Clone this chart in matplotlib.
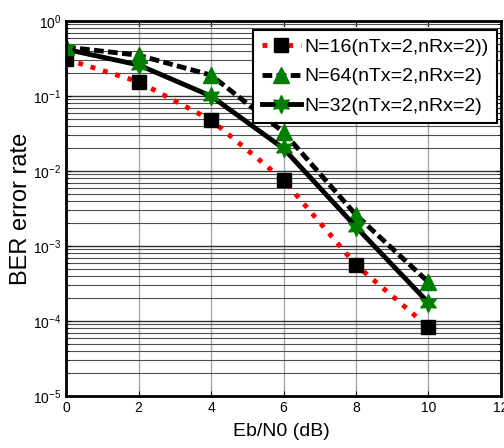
import numpy as np
import matplotlib
matplotlib.use('Agg')
import matplotlib.pyplot as plt

plt.rcParams['font.family'] = ['Liberation Sans', 'DejaVu Sans']

# Eb/N0 points and simulated BER for each configuration
ebno = [0, 2, 4, 6, 8, 10]
ber_n16 = [0.31, 0.155, 0.048, 0.0076, 5.6e-4, 8.3e-5]
ber_n64 = [0.45, 0.35, 0.19, 0.033, 2.6e-3, 3.3e-4]
ber_n32 = [0.42, 0.26, 0.10, 0.020, 1.8e-3, 1.75e-4]

labels = ['N=16(nTx=2,nRx=2))', 'N=64(nTx=2,nRx=2)', 'N=32(nTx=2,nRx=2)']

fig = plt.figure(figsize=(5.04, 4.48), dpi=100)
ax = fig.add_axes([0.131, 0.116, 0.863, 0.837])

green = '#007f00'
hexagram = (6, 1, 0)

ax.semilogy(ebno, ber_n16, ':', color='red', lw=3.5, marker='s', ms=9.5,
            mfc='black', mec='black', label=labels[0])
ax.semilogy(ebno, ber_n64, '--', color='black', lw=3.5, marker='^', ms=11,
            mfc=green, mec=green, label=labels[1], dashes=(2.0, 0.9))
ax.semilogy(ebno, ber_n32, '-', color='black', lw=3.5, marker=hexagram, ms=13,
            mfc=green, mec=green, label=labels[2])

ax.set_xlim(0, 12)
ax.set_ylim(1e-5, 1)
ax.set_xticks([0, 2, 4, 6, 8, 10, 12])

ax.grid(True, which='major', axis='x', color='#a8a8a8', lw=1)
ax.grid(True, which='major', axis='y', color='#303030', lw=1)
ax.grid(True, which='minor', axis='y', color='#505050', lw=0.8)

ax.tick_params(which='both', direction='in', labelsize=10, top=True, right=True)
for s in ax.spines.values():
    s.set_linewidth(2)

ax.set_xlabel('Eb/N0 (dB)', fontsize=14)
ax.set_ylabel('BER error rate', fontsize=17)
ax.xaxis.set_label_coords(0.494, -0.072)
ax.yaxis.set_label_coords(-0.078, 0.5)

leg = ax.legend(loc='upper right', bbox_to_anchor=(0.992, 0.977),
                frameon=True, fancybox=False, fontsize=14,
                edgecolor='black', framealpha=1, handlelength=2.0,
                borderpad=0.45, labelspacing=0.6, handletextpad=0.2,
                borderaxespad=0)
leg.get_frame().set_linewidth(1.5)

fig.savefig('out.png', dpi=100)
